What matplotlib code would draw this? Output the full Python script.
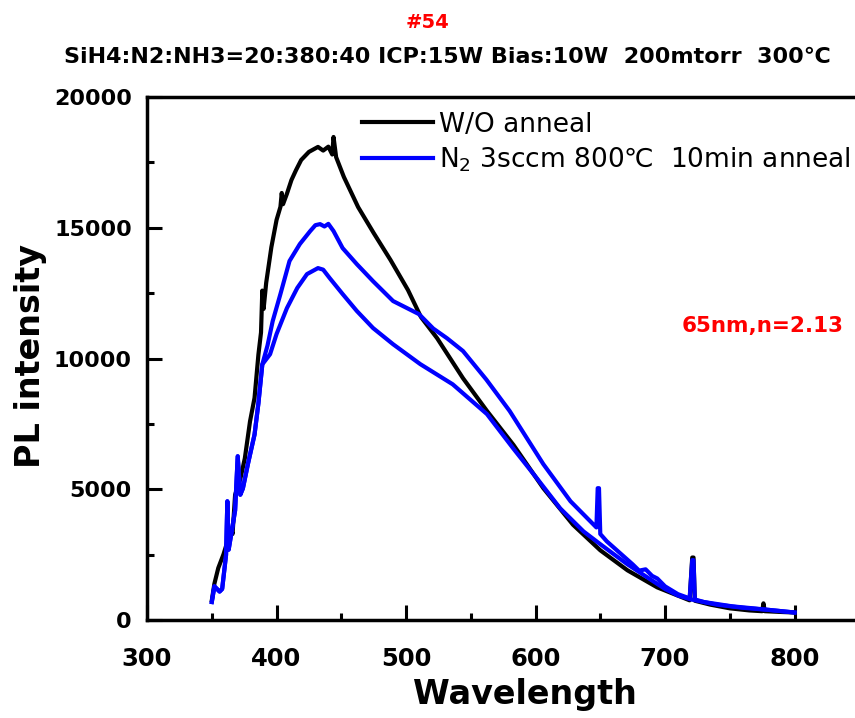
import matplotlib
matplotlib.use("Agg")
import matplotlib.pyplot as plt
from matplotlib.ticker import MultipleLocator

# W/O anneal (black)
black_wl = [350, 352, 355, 359, 362, 365, 366, 368, 372, 375.5, 379.5, 383, 386,
            388, 389, 390, 392, 396, 400, 403, 404, 405, 408, 411.5, 415, 419,
            425, 432, 436, 440, 443, 444, 446, 452, 463, 475, 488, 501.5, 511.5,
            524, 544, 562.5, 583, 606, 629, 650, 671, 694, 719, 721, 722, 723, 735,
            750, 765, 775, 776, 777, 790, 800]
black_pl = [765, 1400, 2000, 2520, 3000, 3500, 3300, 4800, 5400, 6190, 7600, 8500,
            10160, 11000, 12600, 11900, 12900, 14260, 15300, 15800, 16330, 15900,
            16300, 16825, 17200, 17590, 17900, 18090, 17950, 18100, 17800, 18470,
            17700, 16940, 15790, 14800, 13770, 12620, 11590, 10780, 9250, 8000,
            6700, 5050, 3650, 2677, 1912, 1260, 765, 2400, 2400, 750, 600, 460,
            380, 350, 650, 350, 320, 300]

# N2 anneal, first measurement (upper blue)
blue1_wl = [350, 352, 356, 358, 361, 362, 363, 365, 368, 370, 372, 374, 378, 383,
            386, 389, 393, 397, 403, 410, 418, 426, 430, 433.6, 437, 440, 444, 451,
            462, 474.5, 490, 510, 521, 531.6, 544, 562, 580, 606, 627, 642,
            647, 648, 649, 650, 655, 675, 680, 685, 690, 694, 700, 710, 719, 721,
            722, 723, 730, 752, 770, 780, 790, 800]
blue1_pl = [700, 1300, 1100, 1200, 2500, 4550, 2700, 3290, 4200, 6270, 4800, 5040,
            6000, 7100, 8300, 9780, 10500, 11430, 12470, 13730, 14380, 14875,
            15100, 15140, 15050, 15150, 14875, 14225, 13610, 12960, 12200, 11700,
            11150, 10780, 10290, 9200, 8000, 5970, 4550, 3800, 3550, 5050,
            5050, 3300, 3020, 2140, 1900, 1950, 1700, 1600, 1300, 1000, 840, 2300,
            2300, 800, 700, 535, 450, 400, 350, 300]

# N2 anneal, second measurement (lower blue)
blue2_wl = [350, 352, 356, 358, 361, 362, 363, 365, 368, 370, 372, 374, 378, 383,
            386, 389, 395, 400, 408, 416, 423.5, 432, 436, 441, 451, 462, 474.5,
            490, 511, 536, 562.5, 582.6, 601, 619, 637, 650, 671,
            691, 700, 710, 720, 740, 760, 780, 800]
blue2_pl = [700, 1300, 1100, 1200, 2500, 4550, 2700, 3290, 4200, 6270, 4800, 5040,
            6000, 7100, 8300, 9780, 10170, 10940, 11930, 12700, 13230, 13460, 13400,
            13080, 12470, 11820, 11170, 10550, 9790, 9020, 7880, 6580, 5430, 4280,
            3400, 2910, 2140, 1490, 1200, 950, 800, 600, 480, 400, 300]

x_ticks = [300, 400, 500, 600, 700, 800]
y_ticks = [0, 5000, 10000, 15000, 20000]


def make_graph():
    fig = plt.figure(figsize=(8.55, 7.18), dpi=100)
    ax = fig.add_axes([0.172, 0.136, 0.833, 0.729])

    ax.plot(black_wl, black_pl, color="black", lw=3, label="W/O anneal")
    ax.plot(blue1_wl, blue1_pl, color="blue", lw=3,
            label="N$_2$ 3sccm 800℃  10min anneal")
    ax.plot(blue2_wl, blue2_pl, color="blue", lw=3)

    ax.set_xlim(300, 850)
    ax.set_ylim(0, 20000)
    ax.set_xticks(x_ticks)
    ax.set_yticks(y_ticks)
    ax.xaxis.set_minor_locator(MultipleLocator(50))
    ax.yaxis.set_minor_locator(MultipleLocator(2500))
    ax.tick_params(which="both", direction="in", width=2.2, top=False, right=False)
    ax.tick_params(which="major", length=11)
    ax.tick_params(which="minor", length=5)
    ax.tick_params(axis="x", pad=19, labelsize=17.5)
    ax.tick_params(axis="y", pad=11, labelsize=16)
    for lab in ax.get_xticklabels() + ax.get_yticklabels():
        lab.set_fontweight("bold")
    for side in ["left", "bottom", "top"]:
        ax.spines[side].set_linewidth(2.5)
    ax.spines["right"].set_visible(False)

    ax.set_xlabel("Wavelength", fontsize=24, fontweight="bold")
    ax.set_ylabel("PL intensity", fontsize=24, fontweight="bold")
    ax.xaxis.set_label_coords(0.531, -0.11)
    ax.yaxis.set_label_coords(-0.14, 0.506)

    # legend rows sit at about y=123 and y=157 px in the original
    ax.legend(loc="upper left", bbox_to_anchor=(0.302, 0.972), frameon=False,
              fontsize=19, handlelength=2.7, handletextpad=0.2, labelspacing=0.3,
              borderpad=0, borderaxespad=0)

    ax.text(0.864, 0.563, "65nm,n=2.13", color="red", fontsize=15.5,
            fontweight="bold", ha="center", va="center", transform=ax.transAxes)

    fig.text(0.5, 0.969, "#54", color="red", fontsize=14, fontweight="bold",
             ha="center", va="center")
    fig.text(0.523, 0.921, "SiH4:N2:NH3=20:380:40 ICP:15W Bias:10W  200mtorr  300℃",
             fontsize=16, fontweight="bold", ha="center", va="center")

    fig.savefig("out.png", dpi=100)


if __name__ == "__main__":
    make_graph()
